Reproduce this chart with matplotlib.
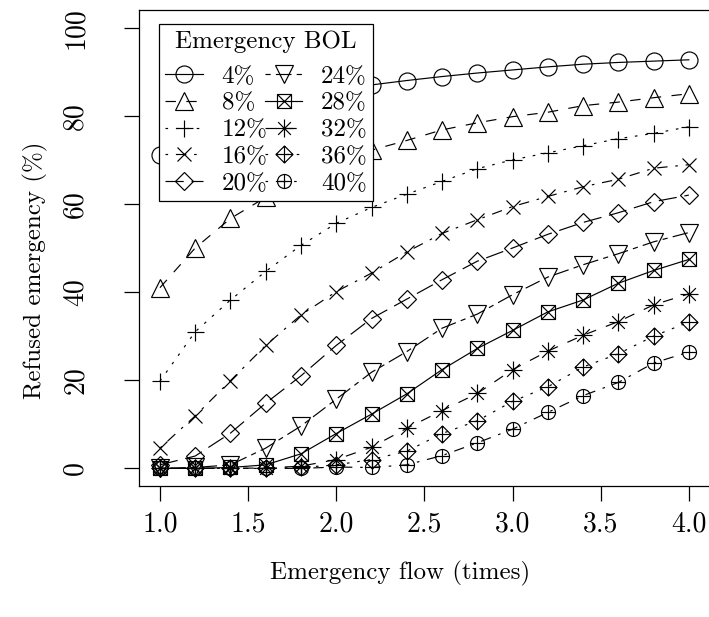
import numpy as np
import matplotlib
matplotlib.use("Agg")
import matplotlib.pyplot as plt
from matplotlib.path import Path

plt.rcParams['font.family'] = ['cmr10', 'DejaVu Serif']
plt.rcParams['axes.formatter.use_mathtext'] = True
plt.rcParams['lines.scale_dashes'] = False

# ---------------- data ----------------
flow = [1.0, 1.2, 1.4, 1.6, 1.8, 2.0, 2.2, 2.4, 2.6, 2.8, 3.0, 3.2, 3.4, 3.6, 3.8, 4.0]
bol_labels = ["4%", "8%", "12%", "16%", "20%", "24%", "28%", "32%", "36%", "40%"]

bol4 = [71.0, 76.0, 79.5, 82.0, 84.0, 85.8, 87.0, 88.0, 88.9, 89.7, 90.4, 91.1, 91.7, 92.1, 92.4, 92.7]
bol8 = [41.0, 50.0, 56.7, 61.5, 65.5, 69.0, 72.2, 74.4, 76.8, 78.4, 79.8, 80.8, 82.3, 83.1, 84.1, 85.0]
bol12 = [19.8, 31.0, 38.2, 44.7, 50.6, 55.6, 59.2, 62.2, 65.1, 68.0, 70.0, 71.6, 73.2, 74.8, 76.0, 77.5]
bol16 = [4.6, 11.9, 19.9, 27.9, 34.8, 40.1, 44.3, 49.1, 53.3, 56.4, 59.4, 61.7, 63.9, 65.6, 68.1, 68.9]
bol20 = [0.8, 2.8, 8.0, 14.8, 21.0, 27.9, 34.0, 38.4, 42.8, 47.0, 50.0, 53.1, 55.8, 58.0, 60.5, 62.0]
bol24 = [0.0, 0.2, 0.8, 4.6, 9.6, 15.7, 21.8, 26.5, 31.8, 35.0, 39.4, 43.4, 46.2, 48.7, 51.4, 53.5]
bol28 = [0.0, 0.0, 0.2, 0.8, 3.3, 7.9, 12.3, 16.9, 22.4, 27.2, 31.3, 35.5, 38.2, 42.0, 44.9, 47.4]
bol32 = [0.0, 0.0, 0.0, 0.1, 0.5, 2.0, 4.8, 9.1, 13.1, 17.0, 22.4, 26.6, 30.2, 33.3, 37.1, 39.6]
bol36 = [0.0, 0.0, 0.0, 0.0, 0.2, 0.8, 2.0, 3.9, 7.9, 10.8, 15.2, 18.5, 23.0, 26.0, 30.0, 33.2]
bol40 = [0.0, 0.0, 0.0, 0.0, 0.0, 0.3, 0.2, 0.8, 2.9, 5.8, 8.9, 12.7, 16.5, 19.5, 23.9, 26.4]
series = [bol4, bol8, bol12, bol16, bol20, bol24, bol28, bol32, bol36, bol40]

xticks = [1.0, 1.5, 2.0, 2.5, 3.0, 3.5, 4.0]
yticks = [0, 20, 40, 60, 80, 100]

# ---------------- styles (R lty 1..6 recycled, pch 1..10) ----------------
PX = 72.0 / 100.0  # points per pixel at dpi 100
u = 2.6 * PX
ltys = {
    1: '-',
    2: (0, (4 * u, 4 * u)),
    3: (0, (1 * u, 3 * u)),
    4: (0, (1 * u, 3 * u, 4 * u, 3 * u)),
    5: (0, (7 * u, 3 * u)),
    6: (0, (2 * u, 2 * u, 6 * u, 2 * u)),
}
line_styles = [ltys[1], ltys[2], ltys[3], ltys[4], ltys[5], ltys[6],
               ltys[1], ltys[2], ltys[3], ltys[4]]


def compound(*parts):
    verts, codes = [], []
    for v, c in parts:
        verts.extend(v)
        codes.extend(c)
    return Path(verts, codes)


M, L, C = Path.MOVETO, Path.LINETO, Path.CLOSEPOLY
sq = ([(-1, -1), (1, -1), (1, 1), (-1, 1), (-1, -1)], [M, L, L, L, C])
xcross = ([(-1, -1), (1, 1), (-1, 1), (1, -1)], [M, L, M, L])
dia = ([(0, 1), (1, 0), (0, -1), (-1, 0), (0, 1)], [M, L, L, L, C])
plus = ([(0, 1), (0, -1), (-1, 0), (1, 0)], [M, L, M, L])
xr = 0.7071
xsmall = ([(-xr, -xr), (xr, xr), (-xr, xr), (xr, -xr)], [M, L, M, L])
circ = Path.unit_circle()
circ_part = (list(map(tuple, circ.vertices)), list(circ.codes))

sq_x = compound(sq, xcross)
dia_plus = compound(dia, plus)
circ_plus = compound(circ_part, plus)
asterisk = compound(plus, xsmall)

markers = ['o', '^', '+', 'x', 'D', 'v', sq_x, asterisk, dia_plus, circ_plus]
msizes_px = [17, 18, 17, 14, 13, 18, 14, 18, 17, 14]

fig = plt.figure(figsize=(7.09, 6.17), dpi=100)
ax = fig.add_axes([138.8 / 709, 1 - 486 / 617, (710 - 138.8) / 709, (486 - 10) / 617])

for vals, lab, ls, mk, ms in zip(series, bol_labels, line_styles, markers, msizes_px):
    ax.plot(flow, vals, color='black', linestyle=ls, linewidth=0.85,
            marker=mk, markersize=ms * PX, markerfacecolor='none',
            markeredgecolor='black', markeredgewidth=0.85, label=lab,
            dash_capstyle='butt')

ax.set_xlim(0.88, 4.12)
ax.set_ylim(-4, 104)
ax.set_xticks(xticks)
ax.set_xticklabels([f"{t:.1f}" for t in xticks], fontsize=20)
ax.set_yticks(yticks)
ax.set_yticklabels([str(t) for t in yticks], fontsize=20, rotation=90, va='center')
ax.tick_params(direction='out', length=11, width=0.9)
ax.tick_params(axis='x', pad=7)
ax.tick_params(axis='y', pad=25)
for s in ax.spines.values():
    s.set_linewidth(0.9)

ax.set_xlabel("Emergency flow (times)", fontsize=18)
ax.set_ylabel("Refused emergency (%)", fontsize=18)
ax.xaxis.set_label_coords((400 - 138.8) / 571, (486 - 573) / 476)
ax.xaxis.label.set_va('center')
ax.yaxis.set_label_coords((35 - 138.8) / 571, (486 - 270) / 476)
ax.yaxis.label.set_va('center')

leg = ax.legend(title="Emergency BOL", ncol=2, loc='upper left',
                bbox_to_anchor=((159 - 138.8) / 571, 1 - (24 - 10) / 476),
                borderaxespad=0, fontsize=18, title_fontsize=18,
                handlelength=1.5, handletextpad=0.75, columnspacing=-0.1,
                labelspacing=0.17, borderpad=0.25, fancybox=False,
                framealpha=1, edgecolor='black')
leg.get_frame().set_linewidth(0.9)
leg._legend_box.sep = 9.0

fig.savefig("out.png", dpi=100)
